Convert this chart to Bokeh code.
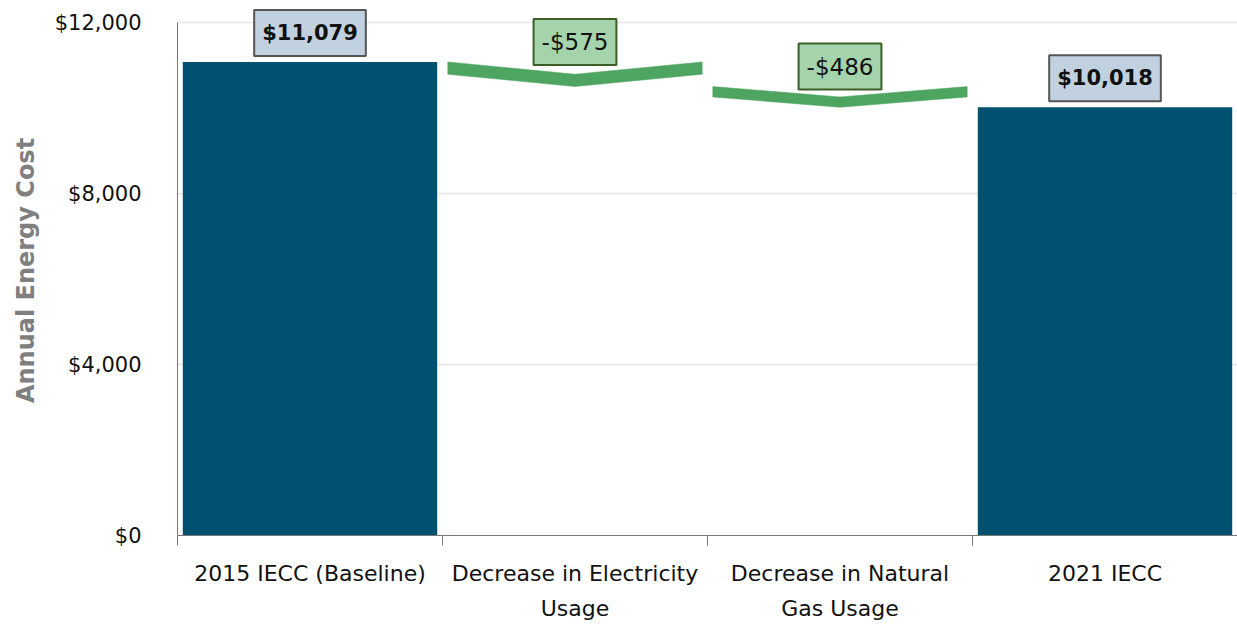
from bokeh.plotting import figure
from bokeh.models import FixedTicker, CustomJSTickFormatter, NumeralTickFormatter, Label, Range1d
from bokeh.embed import file_html
from bokeh.resources import INLINE

# ---- data ----
categories = ["2015 IECC (Baseline)", "Decrease in Electricity\nUsage",
              "Decrease in Natural\nGas Usage", "2021 IECC"]
values = [11079, -575, -486, 10018]
kinds = ["total", "delta", "delta", "total"]
value_labels = ["$11,079", "-$575", "-$486", "$10,018"]
y_ticks = [0, 4000, 8000, 12000]

FONT = "DejaVu Sans"
BAR = "#00506f"
GREEN = "#4ea562"

p = figure(width=1237, height=624, x_range=Range1d(0, len(categories)),
           y_range=Range1d(0, 12400), output_backend="svg", toolbar_location=None,
           min_border_left=177, min_border_right=0, min_border_top=5, min_border_bottom=89)
p.outline_line_color = None
p.background_fill_color = "white"
p.border_fill_color = "white"

# waterfall geometry
running = 0
bar_x, bar_top = [], []
chev_xs, chev_ys = [], []
label_pos = []
w = 0.96
for i, (v, k) in enumerate(zip(values, kinds)):
    xc = i + 0.5
    if k == "total":
        bar_x.append(xc)
        bar_top.append(v)
        running = v
        label_pos.append((xc, v, 6))
    else:
        s = running
        e = running + v
        d = (s - e) / 2
        x0, x1 = xc - w / 2, xc + w / 2
        chev_xs.append([x0, xc, x1, x1, xc, x0])
        chev_ys.append([s, s - d, s, s - d, e, s - d])
        running = e
        label_pos.append((xc, s, -3))

p.vbar(x=bar_x, top=bar_top, bottom=0, width=w, color=BAR, line_color=None)
p.patches(xs=chev_xs, ys=chev_ys, fill_color=GREEN, line_color=GREEN, line_width=0.5)

for (x, y, off), txt, k in zip(label_pos, value_labels, kinds):
    if k == "total":
        lab = Label(x=x, y=y, y_offset=off, text=txt, text_align="center", text_baseline="bottom",
                    text_font=FONT, text_font_size="21px", text_font_style="bold", text_color="#111111",
                    background_fill_color="#c1d1df", border_line_color="#555555", border_line_width=2,
                    padding=(8, 11))
    else:
        lab = Label(x=x, y=y, y_offset=off, text=txt, text_align="center", text_baseline="bottom",
                    text_font=FONT, text_font_size="23px", text_color="#111111",
                    background_fill_color="#a5d3ab", border_line_color="#3d5e27", border_line_width=2,
                    padding=(8, 10))
    p.add_layout(lab)

# x axis
xa = p.xaxis[0]
xa.ticker = FixedTicker(ticks=[i + 0.5 for i in range(len(categories))],
                        minor_ticks=list(range(len(categories) + 1)))
xa.formatter = CustomJSTickFormatter(args=dict(labels=categories),
                                     code="return labels[Math.floor(tick)];")
xa.major_tick_line_color = None
xa.minor_tick_line_color = "#777777"
xa.minor_tick_out = 10
xa.minor_tick_in = 0
xa.axis_line_color = "#777777"
xa.major_label_text_font = FONT
xa.major_label_text_font_size = "22px"
xa.major_label_text_color = "#111111"
xa.major_label_text_line_height = 1.4
xa.major_label_standoff = 15

# y axis
ya = p.yaxis[0]
ya.bounds = (0, 12000)
ya.ticker = FixedTicker(ticks=y_ticks)
ya.formatter = NumeralTickFormatter(format="$0,0")
ya.major_tick_line_color = None
ya.minor_tick_line_color = None
ya.axis_line_color = "#777777"
ya.major_label_text_font = FONT
ya.major_label_text_font_size = "21px"
ya.major_label_text_color = "#111111"
ya.major_label_standoff = 30
ya.axis_label = "Annual Energy Cost"
ya.axis_label_text_font = FONT
ya.axis_label_text_font_size = "24px"
ya.axis_label_text_font_style = "bold"
ya.axis_label_text_color = "#7f7f7f"
ya.axis_label_standoff = 12

p.xgrid.visible = False
p.ygrid.grid_line_color = "#e6e6e6"
p.ygrid.grid_line_width = 1.5
p.ygrid.bounds = (0, 12000)

open("out.html", "w").write(file_html(p, INLINE))
